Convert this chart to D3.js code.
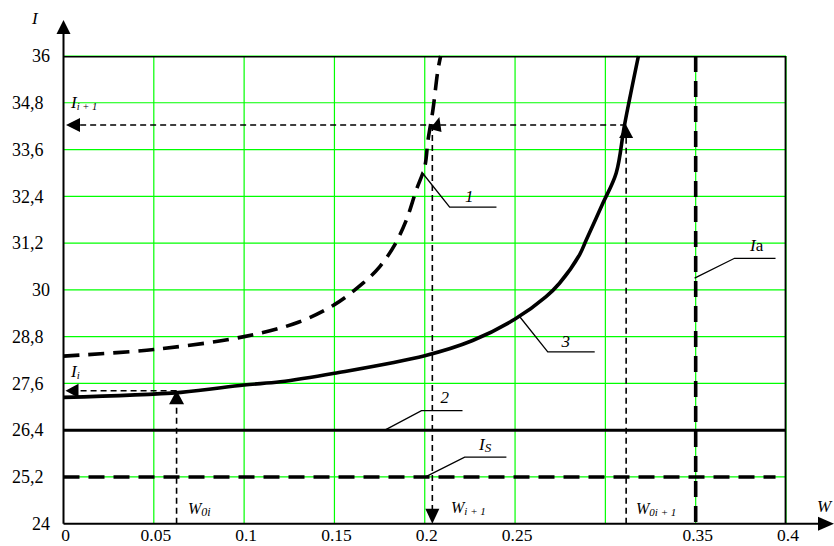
<!DOCTYPE html>
<html><head><meta charset="utf-8">
<script src="https://cdn.jsdelivr.net/npm/d3@7/dist/d3.min.js"></script>
<style>
html,body{margin:0;padding:0;background:#fff;}
svg{display:block;}
svg text{font-family:"Liberation Serif","DejaVu Serif","Times New Roman",serif;}
</style></head>
<body><svg id="c" width="834" height="546"></svg>
<script>
// ---- data ----
const xTicks = [0, 0.05, 0.1, 0.15, 0.2, 0.25, 0.3, 0.35, 0.4];
const xTickLabels = ["0", "0.05", "0.1", "0.15", "0.2", "0.25", "", "0.35", "0.4"];
const yTicks = [24, 25.2, 26.4, 27.6, 28.8, 30, 31.2, 32.4, 33.6, 34.8, 36];
const yTickLabels = ["24", "25,2", "26,4", "27,6", "28,8", "30", "31,2", "32,4", "33,6", "34,8", "36"];

// curve 1 (dashed)
const curve1W = [0, 0.05, 0.1, 0.13, 0.15, 0.1658, 0.175, 0.1833, 0.1898, 0.1953, 0.2, 0.2018, 0.2045, 0.2073, 0.2088];
const curve1I = [28.30, 28.47, 28.80, 29.17, 29.62, 30.17, 30.59, 31.15, 31.79, 32.56, 33.16, 33.84, 34.61, 35.64, 36.0];
// curve 3 (solid)
const curve3W = [0, 0.065, 0.1, 0.12, 0.15, 0.2, 0.2265, 0.25, 0.267, 0.2746, 0.2857, 0.2894, 0.2986, 0.306, 0.3106, 0.3183];
const curve3I = [27.24, 27.37, 27.56, 27.64, 27.86, 28.31, 28.70, 29.25, 29.82, 30.17, 30.90, 31.28, 32.22, 33.00, 34.23, 36.0];
// horizontal / vertical reference lines
const line2I = 26.4;
const lineIsI = 25.2;
const lineIaW = 0.35;
// construction points
const W0i = 0.0626, Ii = 27.41;
const Wi1 = 0.2042, W0i1 = 0.3115, Ii1 = 34.23;

// leader annotations: start, elbow, end (data units)
const leaderNames = ["1", "3", "2", "Is", "Ia"];
const leaderPts = [
  [[0.1982, 33.03], [0.2138, 32.12], [0.2397, 32.12]],
  [[0.2526, 29.31], [0.2681, 28.41], [0.2941, 28.41]],
  [[0.1779, 26.40], [0.1982, 26.90], [0.2209, 26.90]],
  [[0.2004, 25.20], [0.2221, 25.71], [0.2452, 25.71]],
  [[0.3494, 30.30], [0.3715, 30.81], [0.3942, 30.81]]
];

// ---- drawing ----
const svg = d3.select("#c");
const x = d3.scaleLinear().domain([0, 0.4]).range([63.5, 786]);
const y = d3.scaleLinear().domain([24, 36]).range([523.7, 56]);
const GREEN = "#00ff00";
const FONT = "Liberation Serif, DejaVu Serif, serif";

// grid
const g = svg.append("g");
g.selectAll("line.vg").data(xTicks.slice(1)).join("line")
  .attr("x1", d => x(d)).attr("x2", d => x(d)).attr("y1", y(24)).attr("y2", y(36))
  .attr("stroke", GREEN).attr("stroke-width", 1.2);
g.selectAll("line.hg").data(yTicks.slice(1)).join("line")
  .attr("x1", x(0)).attr("x2", x(0.4)).attr("y1", d => y(d)).attr("y2", d => y(d))
  .attr("stroke", GREEN).attr("stroke-width", 1.2);

// frame top & right
svg.append("line").attr("x1", x(0)).attr("x2", x(0.4)).attr("y1", y(36) + 0.8).attr("y2", y(36) + 0.8)
  .attr("stroke", "#000").attr("stroke-width", 1.6);
svg.append("line").attr("x1", x(0.4) - 0.5).attr("x2", x(0.4) - 0.5).attr("y1", y(36)).attr("y2", y(24))
  .attr("stroke", "#000").attr("stroke-width", 1.8);

// axes lines
svg.append("line").attr("x1", x(0)).attr("x2", x(0)).attr("y1", y(24)).attr("y2", 30)
  .attr("stroke", "#000").attr("stroke-width", 2);
svg.append("line").attr("x1", x(0)).attr("x2", 822).attr("y1", y(24)).attr("y2", y(24))
  .attr("stroke", "#000").attr("stroke-width", 2);

function arrow(tx, ty, angleDeg, len = 14, hw = 7) {
  const a = angleDeg * Math.PI / 180;
  const bx = tx - len * Math.cos(a), by = ty - len * Math.sin(a);
  const px = -Math.sin(a) * hw, py = Math.cos(a) * hw;
  svg.append("path")
    .attr("d", `M${tx},${ty}L${bx + px},${by + py}L${bx - px},${by - py}Z`)
    .attr("fill", "#000");
}
arrow(x(0), 20, -90, 14, 7);
arrow(834, y(24), 0, 16, 7);

// tick labels
svg.selectAll("text.xl").data(xTicks).join("text")
  .attr("font-family", FONT)
  .attr("x", d => x(d) + 2).attr("y", 541)
  .attr("text-anchor", "middle").attr("font-size", 17.5)
  .text((d, i) => xTickLabels[i]);
svg.selectAll("text.yl").data(yTicks).join("text")
  .attr("font-family", FONT)
  .attr("x", (d, i) => yTickLabels[i].includes(",") ? 43.5 : 50).attr("y", d => y(d))
  .attr("dy", "0.35em")
  .attr("text-anchor", "end").attr("font-size", 18)
  .text((d, i) => yTickLabels[i]);

// axis titles
svg.append("text").attr("font-family", FONT).attr("x", 32).attr("y", 23.5).attr("font-size", 17).attr("font-style", "italic").text("I");
svg.append("text").attr("font-family", FONT).attr("x", 817).attr("y", 512).attr("font-size", 17).attr("font-style", "italic").text("W");

// reference lines
svg.append("line").attr("x1", x(0)).attr("x2", x(0.4)).attr("y1", y(line2I)).attr("y2", y(line2I))
  .attr("stroke", "#000").attr("stroke-width", 3);
svg.append("line").attr("x1", x(0)).attr("x2", x(0.3942)).attr("y1", y(lineIsI)).attr("y2", y(lineIsI))
  .attr("stroke", "#000").attr("stroke-width", 3.6).attr("stroke-dasharray", "16,9");
svg.append("line").attr("x1", x(lineIaW)).attr("x2", x(lineIaW)).attr("y1", y(36)).attr("y2", y(24))
  .attr("stroke", "#000").attr("stroke-width", 3.6).attr("stroke-dasharray", "16,9");

// curves
const lg = d3.line().x(d => x(d[0])).y(d => y(d[1])).curve(d3.curveCatmullRom);
const c1 = curve1W.map((w, i) => [w, curve1I[i]]);
const c3 = curve3W.map((w, i) => [w, curve3I[i]]);
svg.append("path").attr("d", lg(c1))
  .attr("fill", "none").attr("stroke", "#000").attr("stroke-width", 3.6).attr("stroke-dasharray", "16,9");
svg.append("path").attr("d", lg(c3))
  .attr("fill", "none").attr("stroke", "#000").attr("stroke-width", 3.6);

// construction (thin dashed)
function dl(x1, y1, x2, y2) {
  svg.append("line").attr("x1", x1).attr("y1", y1).attr("x2", x2).attr("y2", y2)
    .attr("stroke", "#000").attr("stroke-width", 1.6).attr("stroke-dasharray", "6,4");
}
dl(x(W0i), y(24), x(W0i), y(Ii) + 12);
arrow(x(W0i), y(Ii) - 0.5, -90, 14, 7.5);
dl(x(W0i), y(Ii), x(0) + 12, y(Ii));
arrow(x(0) + 2, y(Ii), 180, 13, 7);

dl(x(W0i1), y(24), x(W0i1), y(Ii1) + 12);
arrow(x(W0i1), y(Ii1), -90, 13, 7);
dl(x(W0i1), y(Ii1), x(0) + 14, y(Ii1));
arrow(x(0) + 2.5, y(Ii1), 180, 14, 7);

dl(x(Wi1), y(Ii1), x(Wi1), y(24) - 12);
arrow(x(Wi1), y(24), 90, 15, 7);
arrow(x(Wi1) + 7, y(Ii1) - 8, -75, 14, 6);

// leaders
svg.selectAll("path.leader").data(leaderPts).join("path")
  .attr("d", d => d3.line().x(p => x(p[0])).y(p => y(p[1]))(d))
  .attr("fill", "none").attr("stroke", "#000").attr("stroke-width", 1.3);

// labels
function label(px, py, main, sub, size = 17, subSize = 11, mainItalic = true, suffix = null) {
  const t = svg.append("text").attr("font-family", FONT).attr("x", px).attr("y", py).attr("font-size", size);
  t.append("tspan").attr("font-style", mainItalic ? "italic" : "normal").text(main);
  if (sub) t.append("tspan").attr("font-size", subSize).attr("font-style", "italic").attr("dy", 2).text(sub);
  if (suffix) t.append("tspan").attr("font-style", "normal").text(suffix);
}
label(465, 201.5, "1");
label(561.5, 346.5, "3");
label(440.5, 403, "2");
label(479, 450, "I", "S", 17, 13);
label(750, 250.5, "I", null, 17, 11, true, "a");

label(71, 108, "I", "i + 1", 17, 10.5);
label(71, 376.5, "I", "i", 17, 11);
label(188, 514, "W", "0i", 16, 12);
label(451, 513, "W", "i + 1", 16, 11);
label(636, 514, "W", "0i + 1", 16, 11);
</script></body></html>
